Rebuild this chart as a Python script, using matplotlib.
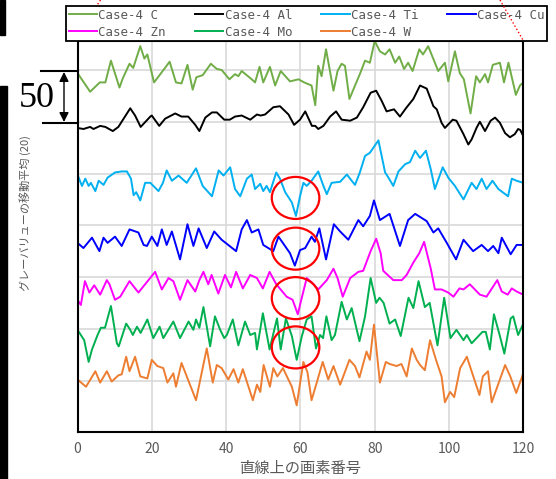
import matplotlib
matplotlib.use('Agg')
import matplotlib.pyplot as plt
from matplotlib.patches import Ellipse, Rectangle

plt.rcParams['font.family'] = ['Noto Sans CJK JP', 'DejaVu Sans']

# グレーバリュー移動平均 (20), 各系列は見た目のオフセット込み
x_c = [0, 3.4, 6, 7.5, 9, 11.3, 12.2, 14, 15, 16.9, 18, 18.8, 20.6, 22.3, 24.8, 26.5, 28, 29.6, 31, 32,
       33.7, 35.9, 37.5, 38.8, 40.9, 42.4, 43.3, 44.2, 46.9, 47.8, 49, 50, 51.8, 53.2, 54.7, 57.2, 59.5, 61,
       63, 64, 64.8, 65.7, 66.9, 68.9, 70, 71.1, 72, 73.2, 74.7, 76, 77.4, 78.7, 80, 81.4, 82.8, 84, 85.5,
       86.6, 87.9, 89, 90.2, 92, 93, 94.4, 97.1, 98.9, 99.8, 101.6, 102.9, 104, 105.8, 107.3, 108.3, 109.7,
       110.5, 111.8, 113.7, 114.8, 116, 118, 119.1, 120]
y_c = [347, 329, 338, 338, 359, 333, 342, 356, 352, 373, 361, 365, 338, 346, 358, 338, 337, 355, 331, 343,
       345, 356, 351, 350, 341, 346, 344, 349, 341, 338, 353, 338, 353, 335, 349, 339, 341, 338,
       335, 316, 354, 344, 370, 330, 349, 356, 354, 322, 335, 346, 359, 357, 378, 368, 365, 370, 357,
       363, 351, 357, 349, 370, 365, 373, 349, 357, 339, 368, 347, 341, 308, 344, 338, 346,
       338, 355, 357, 338, 357, 326, 335, 338]

x_al = [0, 1.6, 3.4, 4.3, 6.1, 7.5, 9.5, 11, 14.2, 15.5, 17, 19.6, 20, 22, 23.6, 26.3, 28, 29.8, 31.7, 32.8,
        34.4, 36.2, 37.5, 39.5, 41, 42.4, 44.2, 46.5, 48.3, 49.3, 50.5, 52.7, 54.5, 56.8, 58.3, 59.9, 61.3,
        63.1, 64, 64.8, 66.2, 68, 69.6, 71.1, 73.4, 75.2, 76.9, 78.9, 80.4, 81.9, 83.2, 85.2, 86.8, 88.4,
        90.4, 92.2, 94, 95.8, 96.7, 98, 98.9, 101, 102, 103.9, 105.2, 106.1, 107.4, 108.3, 109.7, 111.2,
        112.4, 113.7, 115.1, 116.4, 117.7, 118.6, 119.2, 120]
y_al = [294, 293, 295, 293, 296, 295, 291, 295, 313, 306, 295, 305, 306, 296, 303, 308, 305, 305, 297, 291,
        304, 309, 309, 302, 302, 305, 306, 302, 307, 306, 307, 314, 315, 307, 297, 302, 310,
        296, 296, 293, 296, 305, 310, 302, 301, 304, 314, 328, 330, 320, 310, 312, 305, 313,
        322, 335, 332, 315, 312, 299, 294, 302, 301, 288, 278, 283, 294, 300, 291, 301,
        304, 299, 289, 285, 288, 293, 292, 286]

x_ti = [0, 1.2, 2.1, 3, 3.6, 4.8, 5.7, 7, 8.1, 10.1, 11.9, 13.3, 14.4, 15.1, 15.8, 16.9, 18.2, 19.6, 21.8,
        23, 24, 25.4, 27.2, 29.4, 31.9, 33.7, 36.2, 38, 39.3, 41.1, 42.4, 43.8, 45.6, 46.9, 47.8, 49.2, 50,
        50.9, 51.8, 53.5, 54.5, 55.9, 57.7, 58.8, 59.9, 60.8, 61.7, 63, 64.8, 66.2, 67.1, 68.4, 70.7, 72.5,
        74.7, 76, 77.4, 78.7, 81, 82.8, 83.7, 85, 86.4, 88.2, 89.5, 90.9, 92.2, 93.8, 95.1, 96.2, 98.3,
        99.8, 101.6, 103.9, 106.1, 107.4, 108.8, 110.1, 111.7, 113.3, 115.9, 116.9, 118.2, 120]
y_ti = [249, 238, 245, 238, 241, 233, 243, 239, 246, 251, 252, 252, 245, 229, 232, 224, 241, 241, 233,
        241, 253, 243, 248, 241, 255, 238, 228, 253, 248, 256, 235, 228, 245, 249, 235, 240, 233,
        238, 232, 251, 245, 232, 222, 209, 228, 241, 238, 243, 252, 238, 230, 241, 242, 249,
        239, 251, 267, 270, 282, 251, 246, 238, 252, 259, 261, 272, 265, 272, 254, 235, 256,
        246, 238, 225, 241, 235, 245, 235, 243, 235, 228, 245, 243, 241]

x_cu = [0, 1.6, 3.9, 5.9, 7, 8.1, 10.1, 11.9, 14, 16.4, 17.8, 18.7, 20, 21.5, 22.7, 24, 25.4, 27.6, 29.6,
        31.2, 32.6, 34.8, 36.8, 38.8, 42.7, 44.2, 45.6, 46.9, 48.7, 50, 52.7, 54.1, 57.2, 58.5, 59.9, 61.3,
        63, 63.9, 65.1, 66.9, 69, 70.7, 72.9, 75.6, 76.9, 78.7, 79.8, 81.4, 84, 86.8, 89, 90.9, 94, 95.8,
        97.1, 99.4, 101.9, 103.9, 106.5, 108.8, 110.5, 111.9, 113.3, 114.2, 116.6, 118.2, 120]
y_cu = [183, 178, 188, 175, 188, 183, 189, 180, 196, 193, 181, 180, 189, 180, 196, 181, 194, 167, 201,
        180, 197, 178, 194, 186, 175, 196, 205, 193, 196, 181, 175, 189, 173, 161, 176, 178,
        189, 184, 197, 167, 201, 194, 186, 205, 199, 209, 224, 205, 211, 180, 205, 211, 204, 193,
        197, 183, 167, 186, 175, 181, 175, 180, 173, 188, 172, 181, 181]

x_zn = [0, 0.9, 2, 3.2, 4.5, 6.1, 7.9, 8.6, 10.1, 11.5, 14, 16.4, 19.1, 20.9, 22.7, 24.5, 25.8, 27.6, 29.6,
        31.7, 32.8, 33.9, 35.2, 36.1, 37.9, 39.7, 41.3, 42.7, 44.5, 46.5, 48.3, 49.9, 51.7, 53.5, 56.3,
        57.9, 59.3, 60.1, 61.7, 63, 64.8, 67.1, 68.9, 70, 71.4, 73.4, 75.6, 76.9, 78.9, 80.4, 81.6, 82.3,
        85, 87.3, 88.6, 90.4, 92, 93.3, 95.1, 96.2, 98, 99.8, 101.2, 102.8, 103.9, 105.6, 108.3, 110.1,
        113, 114.2, 115.8, 116.9, 118.2, 120]
y_zn = [128, 123, 146, 135, 142, 133, 147, 143, 128, 131, 146, 135, 147, 155, 138, 149, 146, 128, 147,
        136, 147, 155, 143, 152, 134, 152, 140, 155, 139, 152, 149, 139, 155, 143, 131,
        128, 114, 126, 149, 145, 138, 147, 158, 149, 131, 149, 155, 156, 175, 187, 173, 156,
        147, 147, 152, 164, 173, 184, 158, 138, 138, 135, 131, 139, 138, 143, 133, 131,
        147, 136, 133, 139, 136, 133]

x_mo = [0, 1.8, 3, 3.9, 5.4, 6.3, 7.4, 9, 10.6, 11.1, 13.1, 14.2, 14.9, 16, 17, 18.8, 20.4, 22.1, 23.1,
        25.8, 27.6, 29.9, 31.2, 31.9, 32.8, 33.9, 35.7, 37, 38.4, 39.5, 40.2, 41.8, 43.3, 45.1, 46.5, 47.8,
        48.3, 49.9, 51.7, 53.7, 54.7, 56.1, 57.7, 59, 60.4, 61.7, 63, 64.2, 65.3, 66.1, 67, 68.4, 69.3,
        71.1, 72.5, 73.8, 75.9, 77.4, 78.9, 80.4, 81.3, 82.4, 84, 85.5, 87, 89.1, 90.4, 91.8, 93.5, 94.8,
        96.9, 98.7, 100.4, 102, 103.9, 104.8, 106.1, 109, 109.9, 111, 112.1, 113.7, 114.9, 116.6, 117.3,
        118.6, 120]
y_mo = [99, 89, 68, 80, 94, 101, 101, 122, 86, 83, 105, 99, 94, 102, 96, 109, 91, 102, 91,
        107, 91, 107, 99, 109, 101, 121, 83, 112, 99, 91, 94, 109, 84, 107, 94, 96,
        80, 115, 80, 110, 80, 110, 93, 70, 93, 109, 112, 81, 94, 91, 112, 89, 94,
        126, 109, 120, 88, 112, 149, 125, 130, 125, 105, 109, 93, 130, 120, 146, 121, 125,
        84, 130, 91, 99, 89, 94, 86, 97, 97, 80, 114, 93, 76, 110, 112,
        94, 105]

x_w = [0, 2.3, 4.8, 6.1, 7.9, 9.2, 11, 11.9, 13.1, 14, 15.5, 16.9, 18.8, 20, 21.5, 23.1, 24.2, 25.8, 26.5,
       28, 31.9, 33.4, 34.8, 36.4, 37.5, 38.8, 40.6, 42, 43.3, 44.5, 47.2, 48.3, 49.2, 50.1, 51.8, 52.7,
       53.8, 55.3, 57.7, 59, 60.8, 61.9, 63, 64.4, 66, 67.5, 68.9, 70.7, 73.2, 74.7, 75.9, 77.8, 78.7,
       79.8, 81.4, 83, 84, 85.9, 87.2, 88.6, 90, 91.3, 92.2, 93.5, 94.9, 96.5, 98, 98.9, 100.3, 101.4,
       103, 104.8, 108.2, 109.1, 110.5, 111.5, 115.1, 116.5, 118.1, 120]
y_w = [51, 44, 59, 48, 59, 49, 55, 56, 73, 59, 73, 54, 52, 70, 64, 62, 48, 57, 44,
       67, 31, 57, 81, 48, 65, 62, 51, 61, 48, 61, 31, 46, 39, 65, 44, 62,
       54, 62, 44, 26, 68, 58, 31, 48, 68, 51, 64, 46, 70, 64, 53, 78, 70,
       104, 48, 68, 66, 64, 66, 54, 81, 70, 65, 60, 89, 70, 54, 29, 39, 34,
       62, 73, 36, 54, 59, 29, 65, 54, 38, 57]

labels = ['Case-4 C', 'Case-4 Al', 'Case-4 Ti', 'Case-4 Cu', 'Case-4 Zn', 'Case-4 Mo', 'Case-4 W']
colors = ['#70ad47', '#000000', '#00b0f0', '#0000ff', '#ff00ff', '#00b050', '#ed7d31']
xs = [x_c, x_al, x_ti, x_cu, x_zn, x_mo, x_w]
ys = [y_c, y_al, y_ti, y_cu, y_zn, y_mo, y_w]
x_ticks = [0, 20, 40, 60, 80, 100, 120]

W, H = 556, 479
fig = plt.figure(figsize=(W / 100, H / 100), dpi=100)
ax = fig.add_axes([77.5 / W, 1 - 432.3 / H, (523.3 - 77.5) / W, (432.3 - 41) / H])

lines = []
for x, y, c, lab in zip(xs, ys, colors, labels):
    ln, = ax.plot(x, y, color=c, lw=1.4, label=lab, solid_joinstyle='round')
    lines.append(ln)

ax.set_xlim(0, 120)
ax.set_ylim(0, 378)
ax.set_xticks(x_ticks)
ax.set_yticks(range(50, 351, 50))
ax.set_yticklabels([])
ax.tick_params(length=0)
ax.tick_params(axis='x', pad=7, labelsize=10, labelcolor='#595959')
ax.grid(color='#d9d9d9', lw=1.2)
ax.set_axisbelow(True)
for s in ax.spines.values():
    s.set_linewidth(1.5)
    s.set_color('black')

# 赤丸 (注目箇所)
for cy in [226.4, 177.4, 129.6, 82]:
    ax.add_patch(Ellipse((58.7, cy), 12.8, 40.6, fill=False, ec='#ff0000', lw=1.6, zorder=5))

fig.text(300.4 / W, 1 - 468 / H, '直線上の画素番号', ha='center', va='center', fontsize=11, color='#595959')
fig.text(25 / W, 1 - 213 / H, 'グレーバリューの移動平均 (20)', rotation=90, ha='center', va='center',
         fontsize=8, color='#595959')

# 凡例: 列ごとに並ぶので順番を入れ替える
order = [0, 4, 1, 5, 2, 6, 3]
leg = fig.legend([lines[i] for i in order], [labels[i] for i in order], loc='lower left',
                 bbox_to_anchor=(66 / W, 1 - 41 / H, (547 - 66) / W, 35 / H), mode='expand', ncol=4,
                 borderaxespad=0, fancybox=False, edgecolor='black', framealpha=1,
                 prop={'family': 'DejaVu Sans Mono', 'size': 9}, labelcolor='#595959',
                 handlelength=2.3, handletextpad=0.1, labelspacing=0.3, borderpad=0.2,
                 columnspacing=0.5)
leg.get_frame().set_linewidth(1.3)

# 上に重ねた注記 (ピクセル座標)
ov = fig.add_axes([0, 0, 1, 1], zorder=10)
ov.set_xlim(0, W)
ov.set_ylim(H, 0)
ov.axis('off')
ov.patch.set_alpha(0)
ov.add_patch(Rectangle((0, 0), 5, 35, color='black'))
ov.add_patch(Rectangle((0, 86), 7, H - 86, color='black'))
ov.plot([41, 78], [71, 71], color='black', lw=1.5)
ov.plot([43, 78], [123, 123], color='black', lw=1.5)
ov.annotate('', xy=(64, 72), xytext=(64, 122),
            arrowprops=dict(arrowstyle='<|-|>', color='black', lw=1, mutation_scale=14, shrinkA=0, shrinkB=0))
ov.text(37, 98, '50', ha='center', va='center', fontsize=26, family='Liberation Serif')
ov.plot([500, 523.5], [0, 41], color='red', ls=':', lw=1)
ov.plot([100.5, 96.5], [0, 6], color='red', ls=':', lw=1)

fig.savefig('out.png', dpi=100)
